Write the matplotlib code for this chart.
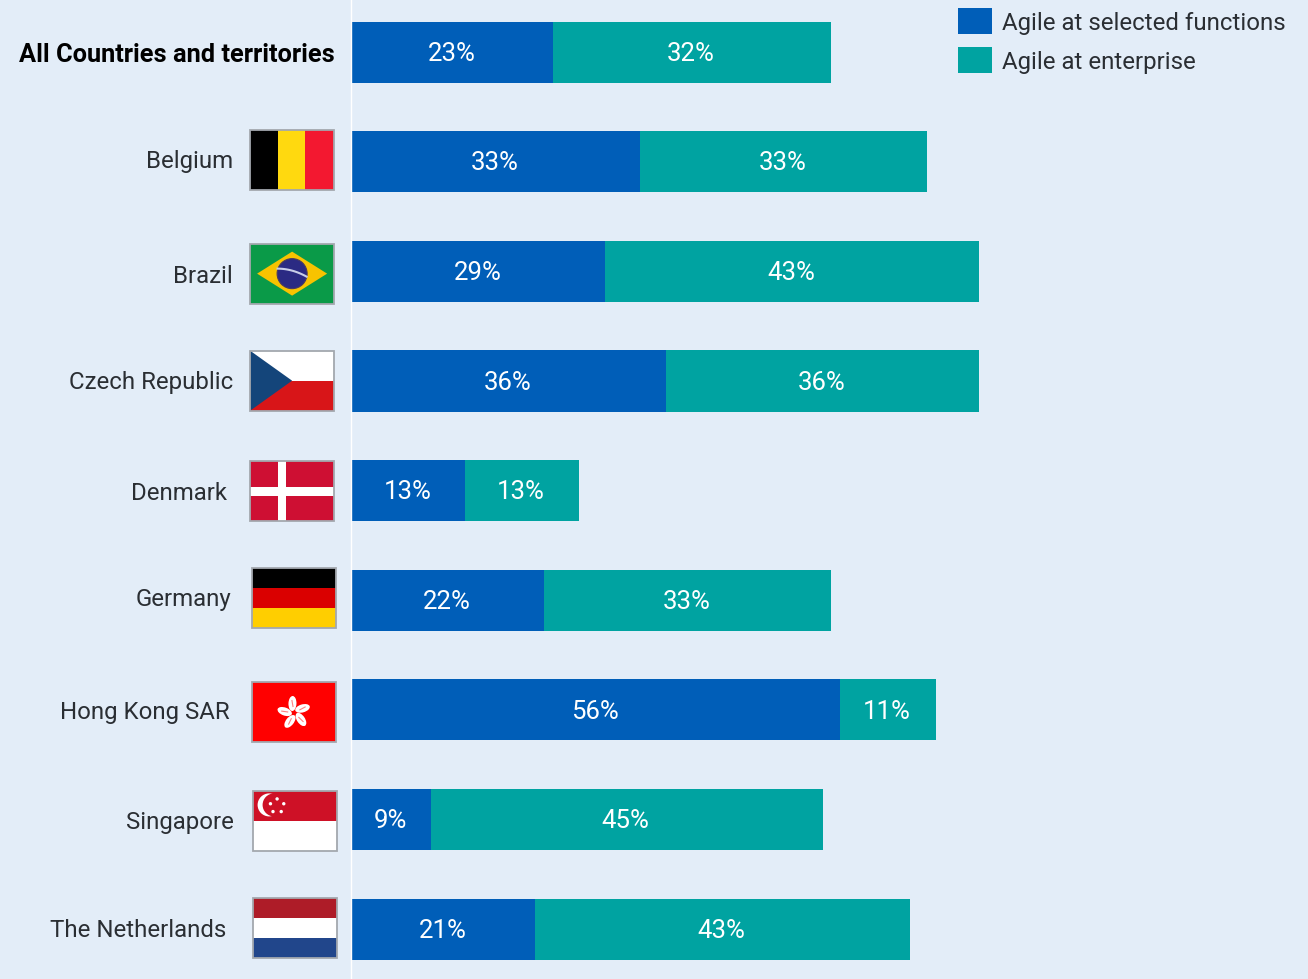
import numpy as np
import matplotlib
matplotlib.use("Agg")
import matplotlib.pyplot as plt
from matplotlib.patches import Rectangle, Polygon, Circle, Ellipse

plt.rcParams["font.family"] = ["Roboto", "DejaVu Sans"]

countries = ["All Countries and territories", "Belgium", "Brazil", "Czech Republic", "Denmark",
             "Germany", "Hong Kong SAR", "Singapore", "The Netherlands"]
selected = [23, 33, 29, 36, 13, 22, 56, 9, 21]
enterprise = [32, 33, 43, 36, 13, 33, 11, 45, 43]
legend_labels = ["Agile at selected functions", "Agile at enterprise"]

BG = "#E3EDF8"
BLUE = "#005EB8"
TEAL = "#00A3A1"
TEXT = "#2A2E33"
W, H = 1308, 979
PX_PER_PCT = 8.71

# Country label anchors in pixels (right edge, vertical centre)
label_x = [335, 233, 233, 233, 227, 231, 230, 234, 226]
label_y = [55, 161, 276, 382, 493, 599, 712, 822, 930]
# Flag boxes in pixels (left, top)
flag_x = [None, 250, 250, 250, 250, 252, 252, 253, 253]
flag_y = [None, 130, 244, 351, 461, 568, 682, 791, 898]
FLAG_W, FLAG_H = 84, 60

# the +0.5 stops the canvas rounding down to 978 px
fig = plt.figure(figsize=((W + 0.5) / 100, (H + 0.5) / 100), dpi=100, facecolor=BG)

# Overlay in pixel coordinates for flags, labels and legend
pix = fig.add_axes([0, 0, 1, 1], zorder=3)
pix.set_xlim(0, W)
pix.set_ylim(H, 0)
pix.axis("off")
pix.patch.set_alpha(0)
pix.plot([351, 351], [0, H], color="white", lw=1.0)

# Bars axes: x in percent, y in category index
top_px, step_px = 52.5, 109.6
ax = fig.add_axes([352 / W, 0, (W - 352) / W, 1], zorder=2)
ax.set_xlim(0, (W - 352) / PX_PER_PCT)
ax.set_ylim((H - top_px) / step_px, -top_px / step_px)
ax.axis("off")
ax.patch.set_alpha(0)

ypos = np.arange(len(countries))
bar_h = 61 / step_px
ax.barh(ypos, selected, height=bar_h, color=BLUE, lw=0)
ax.barh(ypos, enterprise, left=selected, height=bar_h, color=TEAL, lw=0)

for y, a, b in zip(ypos, selected, enterprise):
    ax.text(a / 2 - 0.1, y + 0.01, f"{a}%", color="white", fontsize=18.5, ha="center", va="center")
    ax.text(a + b / 2 - 0.1, y + 0.01, f"{b}%", color="white", fontsize=18.5, ha="center", va="center")


def rect(x, y, w, h, color):
    pix.add_patch(Rectangle((x, y), w, h, facecolor=color, lw=0))


def flag_belgium(x, y):
    rect(x, y, 28, FLAG_H, "#000000")
    rect(x + 28, y, 27, FLAG_H, "#FFD90F")
    rect(x + 55, y, 29, FLAG_H, "#F31830")


def flag_brazil(x, y):
    rect(x, y, FLAG_W, FLAG_H, "#0A9A48")
    pix.add_patch(Polygon([(x + 7, y + 30), (x + 42, y + 8), (x + 77, y + 30), (x + 42, y + 52)],
                          facecolor="#F8C300", lw=0))
    pix.add_patch(Circle((x + 42, y + 30), 15, facecolor="#2B2A83", edgecolor="#4A3A60", lw=0.8))
    t = np.linspace(-1, 1, 30)
    pix.plot(x + 42 + 14.5 * t, y + 29 + 4 * t - 2 * (1 - t ** 2), color="#C8CDE8", lw=1.5)


def flag_czech(x, y):
    rect(x, y, FLAG_W, 30, "#FFFFFF")
    rect(x, y + 30, FLAG_W, 30, "#D81518")
    pix.add_patch(Polygon([(x, y), (x + 42, y + 30), (x, y + 60)], facecolor="#14457A", lw=0))


def flag_denmark(x, y):
    rect(x, y, FLAG_W, FLAG_H, "#CE0F33")
    rect(x + 28, y, 8, FLAG_H, "#FFFFFF")
    rect(x, y + 26, FLAG_W, 9, "#FFFFFF")


def flag_germany(x, y):
    rect(x, y, FLAG_W, 20, "#000000")
    rect(x, y + 20, FLAG_W, 20, "#DA0000")
    rect(x, y + 40, FLAG_W, 20, "#FFCE00")


def flag_hong_kong(x, y):
    rect(x, y, FLAG_W, FLAG_H, "#FF0000")
    cx, cy = x + 42, y + 31
    for ang in np.arange(5) * 72 - 100:
        r = np.deg2rad(ang)
        px, py = cx + 9.5 * np.cos(r), cy + 9.5 * np.sin(r)
        pix.add_patch(Ellipse((px, py), 15, 8, angle=ang + 12, facecolor="white", lw=0))
        pix.plot([px - 3 * np.cos(r), px + 3 * np.cos(r)], [py - 3 * np.sin(r), py + 3 * np.sin(r)],
                 color="#FF8080", lw=0.8)


def flag_singapore(x, y):
    rect(x, y, FLAG_W, 30, "#CE1126")
    rect(x, y + 30, FLAG_W, 30, "#FFFFFF")
    pix.add_patch(Circle((x + 16, y + 14), 11.5, facecolor="white", lw=0))
    pix.add_patch(Circle((x + 21, y + 14), 11.5, facecolor="#CE1126", lw=0))
    for ang in np.arange(5) * 72 - 90:
        r = np.deg2rad(ang)
        pix.add_patch(Circle((x + 24 + 7 * np.cos(r), y + 15 + 7 * np.sin(r)), 1.7,
                             facecolor="white", lw=0))


def flag_netherlands(x, y):
    rect(x, y, FLAG_W, 20, "#AE1C28")
    rect(x, y + 20, FLAG_W, 20, "#FFFFFF")
    rect(x, y + 40, FLAG_W, 20, "#21468B")


flag_painters = [None, flag_belgium, flag_brazil, flag_czech, flag_denmark,
                 flag_germany, flag_hong_kong, flag_singapore, flag_netherlands]

for painter, x, y in zip(flag_painters, flag_x, flag_y):
    if painter is None:
        continue
    painter(x, y)
    pix.add_patch(Rectangle((x, y), FLAG_W, FLAG_H, fill=False, edgecolor="#A3A8AE", lw=1.3))

for i, name in enumerate(countries):
    pix.text(label_x[i], label_y[i], name, ha="right", va="center", color="#000000" if i == 0 else TEXT,
             fontsize=18.3 if i == 0 else 17.3, fontweight="bold" if i == 0 else "normal")

# Legend drawn by hand to hit the exact swatch positions
for label, color, y in zip(legend_labels, [BLUE, TEAL], [8, 47]):
    rect(958, y, 34, 26, color)
    pix.text(1002, y + 15, label, ha="left", va="center", color=TEXT, fontsize=17.3)

fig.savefig("out.png", dpi=100, facecolor=BG)
